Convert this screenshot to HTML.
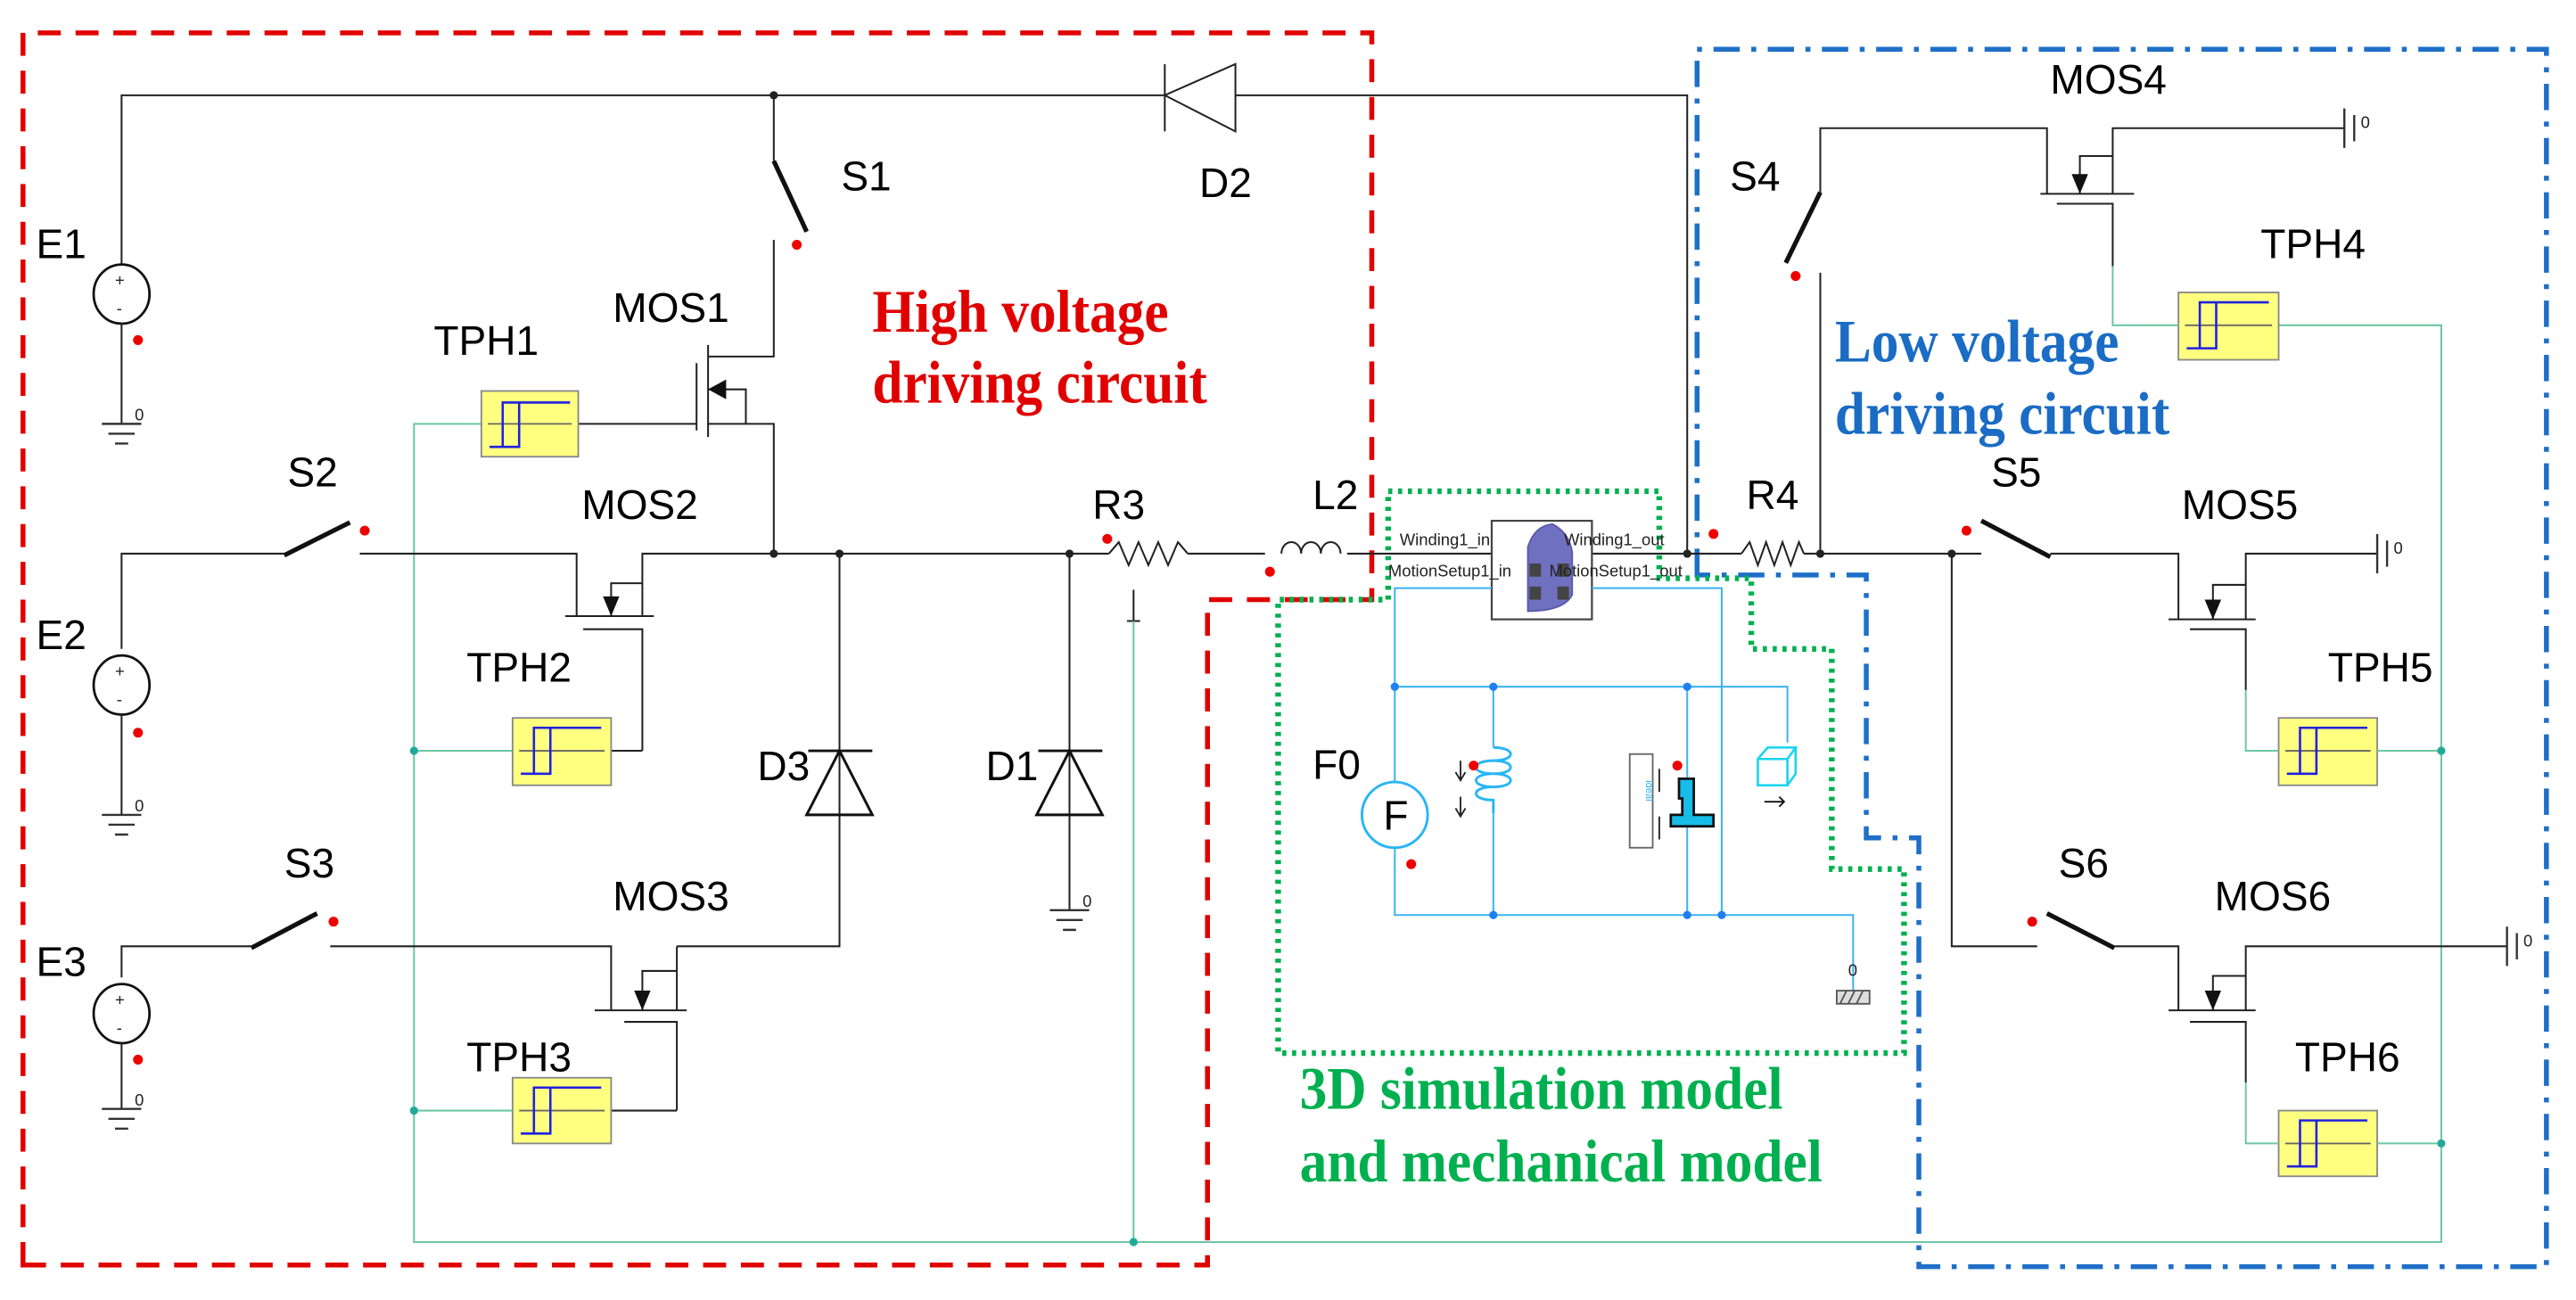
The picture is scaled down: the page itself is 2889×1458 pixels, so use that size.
<!DOCTYPE html>
<html><head><meta charset="utf-8"><style>
html,body{margin:0;padding:0;background:#fff;}
svg{display:block;}
.w{stroke:#222;stroke-width:1.1;fill:none;}
.g{stroke:#6cc7a4;stroke-width:1.1;fill:none;}
.b{stroke:#3bb4f0;stroke-width:1.1;fill:none;}
.lb{font-family:"Liberation Sans",sans-serif;font-size:25px;fill:#000;}
.sm{font-family:"Liberation Sans",sans-serif;font-size:10px;fill:#222;}
.big{font-family:"Liberation Serif",serif;font-weight:bold;font-size:37px;}
</style></head><body>
<svg width="2889" height="1458" viewBox="0 0 1568 791.3" preserveAspectRatio="none" xmlns="http://www.w3.org/2000/svg">
<rect x="0" y="0" width="1568" height="791.3" fill="#fff"/>

<path d="M14,770 L14,20 L835,20 L835,365 L735,365 L735,770 Z" fill="none" stroke="#e00000" stroke-width="3" stroke-dasharray="14,9"/>
<path d="M1033,350 L1033,30 L1550,30 L1550,771 L1168,771 L1168,510 L1136,510 L1136,350 Z" fill="none" stroke="#1e6fc8" stroke-width="3" stroke-dasharray="16,7,3,7"/>
<path d="M845,365 L845,299 L1010,299 L1010,352 L1066,352 L1066,395 L1115,395 L1115,529 L1159,529 L1159,641 L778,641 L778,365 Z" fill="none" stroke="#00b050" stroke-width="3.5" stroke-dasharray="2.5,3.5"/>

<path class="w" d="M74,161 L74,58 L709,58 M752,58 L1027,58 L1027,337"/>
<path class="w" d="M709,39 L709,80 M752,39 L752,80 L709,58 Z" stroke-width="1.6"/>
<circle cx="471" cy="58" r="2.5" fill="#222"/>
<path class="w" d="M471,58 L471,98 M471,146 L471,217 L431,217"/>
<line x1="471" y1="98" x2="491" y2="141" stroke="#111" stroke-width="2.8"/>
<circle cx="485" cy="149" r="3" fill="#e00"/>
<path class="w" d="M431,210 L431,266" stroke-width="1.8"/>
<path class="w" d="M424,221 L424,262" stroke-width="1.8"/>
<path class="w" d="M393,258 L424,258 M431,258 L471,258 L471,337 M431,237 L454,237 L454,258"/>
<path d="M431,237 L442,231 L442,243 Z" fill="#111"/>
<path class="g" d="M293,258 L252,258 L252,756 L1486,756 L1486,198 L1387,198"/>
<path class="w" d="M352,258 L393,258" stroke="#777"/>
<ellipse cx="74" cy="179" rx="17" ry="18" fill="none" stroke="#111" stroke-width="1.5"/>
<text x="70" y="174" class="sm" font-size="11">+</text><text x="71" y="191" class="sm" font-size="11">-</text>
<path class="w" d="M74,197 L74,258"/>
<circle cx="84" cy="207" r="3" fill="#e00"/>

<path class="w" d="M74,395 L74,337 L173,337 M219,337 L351,337 L351,375 M391,375 L391,337 L675,337 M723,337 L770,337 M820,337 L908,337 M969,337 L1060,337 M1098,337 L1206,337 M1248,337 L1326,337 L1326,377 M1367,377 L1367,337 L1447,337"/>
<circle cx="471" cy="337" r="2.5" fill="#222"/><circle cx="511" cy="337" r="2.5" fill="#222"/><circle cx="651" cy="337" r="2.5" fill="#222"/><circle cx="1027" cy="337" r="2.5" fill="#222"/><circle cx="1108" cy="337" r="2.5" fill="#222"/><circle cx="1188" cy="337" r="2.5" fill="#222"/>
<line x1="173" y1="338" x2="213" y2="318" stroke="#111" stroke-width="2.8"/>
<circle cx="222" cy="323" r="3" fill="#e00"/>
<path class="w" d="M344,375 L398,375" stroke-width="1.8"/>
<path class="w" d="M355,383 L391,383 L391,457" stroke-width="1.4"/>
<path class="w" d="M372,375 L372,355 L391,355"/>
<path d="M372,375 L367,363 L377,363 Z" fill="#111"/>
<path class="g" d="M252,457 L312,457"/><path class="w" d="M372,457 L391,457" stroke="#777"/>
<circle cx="252" cy="457" r="2.5" fill="#2a9"/>
<ellipse cx="74" cy="417" rx="17" ry="18" fill="none" stroke="#111" stroke-width="1.5"/>
<text x="70" y="412" class="sm" font-size="11">+</text><text x="71" y="429" class="sm" font-size="11">-</text>
<path class="w" d="M74,435 L74,496"/>
<circle cx="84" cy="446" r="3" fill="#e00"/>
<path class="w" d="M511,337 L511,576 L412,576"/>
<path d="M492,457 L531,457 M511,457 L491,496 L531,496 Z" fill="none" stroke="#111" stroke-width="1.6"/>
<path class="w" d="M651,337 L651,554"/>
<path d="M632,457 L671,457 M651,457 L631,496 L671,496 Z" fill="none" stroke="#111" stroke-width="1.6"/>
<path class="w" d="M675,337 L681,330 L687,344 L693,330 L699,344 L705,330 L711,344 L717,330 L723,337"/>
<circle cx="674" cy="328" r="3" fill="#e00"/>
<path class="w" d="M690,359 L690,378 M686,378 L694,378"/>
<path class="g" d="M690,378 L690,756"/><circle cx="690" cy="756" r="2.5" fill="#2a9"/>
<path class="w" d="M780,337 a6,7 0 0 1 12,0 a6,7 0 0 1 12,0 a6,7 0 0 1 12,0" stroke-width="1.5"/>
<circle cx="773" cy="348" r="3" fill="#e00"/>
<path class="w" d="M74,595 L74,576 L153,576 M201,576 L372,576 L372,615 M412,615 L412,576"/>
<line x1="153" y1="577" x2="193" y2="556" stroke="#111" stroke-width="2.8"/>
<circle cx="203" cy="561" r="3" fill="#e00"/>
<path class="w" d="M362,615 L418,615" stroke-width="1.8"/>
<path class="w" d="M380,622 L412,622 L412,676" stroke-width="1.4"/>
<path class="w" d="M391,615 L391,591 L412,591"/>
<path d="M391,615 L386,603 L396,603 Z" fill="#111"/>
<path class="g" d="M252,676 L312,676"/><path class="w" d="M372,676 L412,676" stroke="#777"/>
<circle cx="252" cy="676" r="2.5" fill="#2a9"/>
<ellipse cx="74" cy="617" rx="17" ry="18" fill="none" stroke="#111" stroke-width="1.5"/>
<text x="70" y="612" class="sm" font-size="11">+</text><text x="71" y="629" class="sm" font-size="11">-</text>
<path class="w" d="M74,635 L74,675"/>
<circle cx="84" cy="645" r="3" fill="#e00"/>

<g stroke="#333" stroke-width="1.3">
<path d="M62,258 L86,258 M66,264 L82,264 M70,270 L78,270"/>
<path d="M62,496 L86,496 M66,502 L82,502 M70,508 L78,508"/>
<path d="M62,675 L86,675 M66,681 L82,681 M70,687 L78,687"/>
<path d="M639,554 L663,554 M643,560 L659,560 M647,566 L655,566"/>
</g>
<text x="82" y="256" class="sm">0</text><text x="82" y="494" class="sm">0</text><text x="82" y="673" class="sm">0</text><text x="659" y="552" class="sm">0</text>

<g stroke-width="1">
<rect x="293" y="238" width="59" height="40" fill="#ffff80" stroke="#888"/>
<path d="M297,258 L348,258" stroke="#666"/><path d="M298,272 L316,272 L316,245 L347,245 M306,272 L306,245 L320,245" stroke="#2020e0" fill="none" stroke-width="1.4"/>
<rect x="312" y="437" width="60" height="41" fill="#ffff80" stroke="#888"/>
<path d="M316,457 L368,457" stroke="#666"/><path d="M317,471 L335,471 L335,443 L366,443 M325,471 L325,443 L339,443" stroke="#2020e0" fill="none" stroke-width="1.4"/>
<rect x="312" y="656" width="60" height="40" fill="#ffff80" stroke="#888"/>
<path d="M316,676 L368,676" stroke="#666"/><path d="M317,690 L335,690 L335,662 L366,662 M325,690 L325,662 L339,662" stroke="#2020e0" fill="none" stroke-width="1.4"/>
<rect x="1326" y="178" width="61" height="41" fill="#ffff80" stroke="#888"/>
<path d="M1330,198 L1383,198" stroke="#666"/><path d="M1331,212 L1349,212 L1349,184 L1381,184 M1339,212 L1339,184 L1353,184" stroke="#2020e0" fill="none" stroke-width="1.4"/>
<rect x="1387" y="437" width="60" height="41" fill="#ffff80" stroke="#888"/>
<path d="M1391,457 L1443,457" stroke="#666"/><path d="M1392,471 L1410,471 L1410,443 L1441,443 M1400,471 L1400,443 L1414,443" stroke="#2020e0" fill="none" stroke-width="1.4"/>
<rect x="1387" y="676" width="60" height="40" fill="#ffff80" stroke="#888"/>
<path d="M1391,696 L1443,696" stroke="#666"/><path d="M1392,710 L1410,710 L1410,682 L1441,682 M1400,710 L1400,682 L1414,682" stroke="#2020e0" fill="none" stroke-width="1.4"/>
</g>

<path class="w" d="M1108,337 L1108,166 M1108,117 L1108,78 L1246,78 L1246,118 M1286,118 L1286,78 L1427,78"/>
<line x1="1108" y1="117" x2="1087" y2="160" stroke="#111" stroke-width="2.8"/>
<circle cx="1093" cy="168" r="3" fill="#e00"/>
<path class="w" d="M1242,118 L1299,118" stroke-width="1.8"/>
<path class="w" d="M1252,124 L1286,124 L1286,162" stroke-width="1.4"/>
<path class="w" d="M1266,118 L1266,95 L1286,95"/>
<path d="M1266,118 L1261,106 L1271,106 Z" fill="#111"/>
<path class="g" d="M1286,162 L1286,198 L1326,198"/>
<path d="M1427,66 L1427,90 M1433,70 L1433,86" stroke="#333" stroke-width="1.3"/><text x="1437" y="78" class="sm">0</text>
<line x1="1206" y1="317" x2="1248" y2="339" stroke="#111" stroke-width="2.8"/>
<circle cx="1197" cy="323" r="3" fill="#e00"/>
<path class="w" d="M1320,377 L1373,377" stroke-width="1.8"/>
<path class="w" d="M1333,383 L1367,383 L1367,420" stroke-width="1.4"/>
<path class="w" d="M1347,377 L1347,356 L1367,356"/>
<path d="M1347,377 L1342,365 L1352,365 Z" fill="#111"/>
<path class="g" d="M1367,420 L1367,457 L1387,457 M1447,457 L1486,457"/>
<circle cx="1486" cy="457" r="2.5" fill="#2a9"/>
<path d="M1447,325 L1447,349 M1453,329 L1453,345" stroke="#333" stroke-width="1.3"/><text x="1457" y="337" class="sm">0</text>
<path class="w" d="M1188,337 L1188,576 L1240,576 M1287,576 L1326,576 L1326,615 M1367,615 L1367,576 L1526,576"/>
<line x1="1246" y1="556" x2="1287" y2="577" stroke="#111" stroke-width="2.8"/>
<circle cx="1237" cy="561" r="3" fill="#e00"/>
<path class="w" d="M1320,615 L1373,615" stroke-width="1.8"/>
<path class="w" d="M1333,622 L1367,622 L1367,659" stroke-width="1.4"/>
<path class="w" d="M1347,615 L1347,594 L1367,594"/>
<path d="M1347,615 L1342,603 L1352,603 Z" fill="#111"/>
<path class="g" d="M1367,659 L1367,696 L1387,696 M1447,696 L1486,696"/>
<circle cx="1486" cy="696" r="2.5" fill="#2a9"/>
<path d="M1526,564 L1526,588 M1532,568 L1532,584" stroke="#333" stroke-width="1.3"/><text x="1536" y="576" class="sm">0</text>
<path class="w" d="M1060,337 L1065,330 L1070,344 L1075,330 L1080,344 L1085,330 L1090,344 L1095,330 L1098,337"/>
<circle cx="1043" cy="325" r="3" fill="#e00"/>

<rect x="908" y="317" width="61" height="60" fill="#fff" stroke="#444" stroke-width="1.2"/>
<path d="M930,372 L930,333 Q934,320 945,319 Q955,324 957,336 L957,362 Q952,372 930,372 Z" fill="#7070c0" stroke="#5a5aa8"/>
<rect x="931" y="343" width="7" height="8" fill="#444"/><rect x="948" y="343" width="7" height="8" fill="#444"/>
<rect x="931" y="357" width="7" height="8" fill="#444"/><rect x="948" y="357" width="7" height="8" fill="#444"/>
<text x="852" y="332" class="sm" font-size="11">Winding1_in</text>
<text x="952" y="332" class="sm" font-size="11">Winding1_out</text>
<text x="845" y="351" class="sm" font-size="11">MotionSetup1_in</text>
<text x="943" y="351" class="sm" font-size="11">MotionSetup1_out</text>
<path class="b" d="M908,358 L849,358 L849,476 M849,516 L849,557 L1128,557 L1128,603 M969,358 L1048,358 L1048,557 M849,418 L1088,418 L1088,452 M909,418 L909,455 M909,495 L909,557 M1027,418 L1027,557"/>
<g fill="#1e7ff0"><circle cx="849" cy="418" r="2.5"/><circle cx="909" cy="418" r="2.5"/><circle cx="1027" cy="418" r="2.5"/><circle cx="909" cy="557" r="2.5"/><circle cx="1027" cy="557" r="2.5"/><circle cx="1048" cy="557" r="2.5"/></g>
<circle cx="849" cy="496" r="20" fill="#fff" stroke="#29b6f6" stroke-width="1.6"/>
<text x="842" y="505" class="lb" font-size="22">F</text>
<path d="M909,455 c14,0 14,8 0,8 c-14,0 -14,8 0,8 M909,463 c14,0 14,8 0,8 c-14,0 -14,8 0,8 M909,471 c14,0 14,8 0,8 c-14,0 -14,8 0,8 L909,495" fill="none" stroke="#29b6f6" stroke-width="1.6"/>
<path d="M889,463 L889,475 M886,470 L889,475 L892,470 M889,485 L889,497 M886,492 L889,497 L892,492" stroke="#222" fill="none"/>
<circle cx="897" cy="466" r="3" fill="#e00"/><circle cx="859" cy="526" r="3" fill="#e00"/><circle cx="1021" cy="466" r="3" fill="#e00"/>
<rect x="992" y="459" width="14" height="57" fill="#fff" stroke="#666"/>
<text x="1002" y="475" font-family="Liberation Sans" font-size="6" fill="#29b6f6" transform="rotate(90 1002 475)">ideal</text>
<path d="M1010,468 L1010,482 M1010,497 L1010,511" stroke="#222"/>
<path d="M1022,474 L1031,474 L1031,496 L1043,496 L1043,503 L1017,503 L1017,496 L1024,496 L1024,486 L1022,486 Z" fill="#17bde8" stroke="#111" stroke-width="1.5"/>
<path d="M1070,462 L1088,462 L1088,478 L1070,478 Z M1070,462 L1076,455 L1093,455 L1088,462 M1093,455 L1093,471 L1088,478" fill="none" stroke="#17d4f0" stroke-width="1.4"/>
<path d="M1074,488 L1086,488 M1083,485 L1086,488 L1083,491" stroke="#111" fill="none"/>
<rect x="1118" y="603" width="20" height="8" fill="#ddd" stroke="#555"/>
<path d="M1120,611 L1124,603 M1125,611 L1129,603 M1130,611 L1134,603" stroke="#555"/>
<text x="1125" y="594" class="sm">0</text>

<g class="lb">
<text x="22" y="157">E1</text><text x="22" y="395">E2</text><text x="22" y="594">E3</text>
<text x="512" y="116">S1</text><text x="730" y="120">D2</text>
<text x="373" y="196">MOS1</text><text x="264" y="216">TPH1</text>
<text x="175" y="296">S2</text><text x="354" y="316">MOS2</text><text x="665" y="316">R3</text>
<text x="284" y="415">TPH2</text><text x="461" y="475">D3</text><text x="600" y="475">D1</text>
<text x="173" y="534">S3</text><text x="373" y="554">MOS3</text><text x="284" y="652">TPH3</text>
<text x="799" y="310">L2</text><text x="1063" y="310">R4</text>
<text x="1053" y="116">S4</text><text x="1248" y="57">MOS4</text><text x="1376" y="157">TPH4</text>
<text x="1212" y="296">S5</text><text x="1328" y="316">MOS5</text><text x="1417" y="415">TPH5</text>
<text x="1253" y="534">S6</text><text x="1348" y="554">MOS6</text><text x="1397" y="652">TPH6</text>
<text x="799" y="474">F0</text>
</g>
<g class="big" transform="scale(0.9,1)">
<text x="590" y="202" fill="#e00000">High voltage</text>
<text x="590" y="245" fill="#e00000">driving circuit</text>
<text x="1241" y="220" fill="#1a6cc4">Low voltage</text>
<text x="1241" y="264" fill="#1a6cc4">driving circuit</text>
<text x="879" y="675" fill="#00b050">3D simulation model</text>
<text x="879" y="719" fill="#00b050">and mechanical model</text>
</g>
</svg>
</body></html>
